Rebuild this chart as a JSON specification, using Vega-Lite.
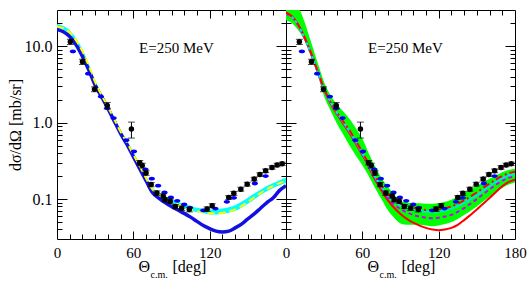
{
  "$schema": "https://vega.github.io/schema/vega-lite/v6.json",
  "padding": {"left": 6, "top": 9, "right": 0, "bottom": 0},
  "spacing": 0,
  "bounds": "flush",
  "config": {
    "font": "Liberation Serif",
    "view": {"stroke": "black", "strokeWidth": 1},
    "axis": {"labelFont": "Liberation Serif", "titleFont": "Liberation Serif", "labelFontSize": 15, "labelColor": "black", "titleColor": "black", "titleFontWeight": "normal", "tickColor": "black", "tickWidth": 1, "domain": false, "grid": false, "labelFlush": false, "labelOverlap": false, "labelBound": false}
  },
  "datasets": {
    "black": [
      {"t": 10.5, "v": 11.5, "lo": 10.6, "hi": 12.4},
      {"t": 20, "v": 6.3, "lo": 5.8, "hi": 6.8},
      {"t": 29.5, "v": 2.75, "lo": 2.55, "hi": 2.95},
      {"t": 39.5, "v": 1.68, "lo": 1.52, "hi": 1.84},
      {"t": 58.5, "v": 0.83, "lo": 0.63, "hi": 1.02},
      {"t": 65, "v": 0.3, "lo": 0.28, "hi": 0.32},
      {"t": 67, "v": 0.275, "lo": 0.255, "hi": 0.295},
      {"t": 70, "v": 0.22, "lo": 0.205, "hi": 0.235},
      {"t": 74, "v": 0.155, "lo": 0.145, "hi": 0.165},
      {"t": 78.5, "v": 0.12, "lo": 0.112, "hi": 0.128},
      {"t": 83.5, "v": 0.11, "lo": 0.103, "hi": 0.117},
      {"t": 85, "v": 0.098, "lo": 0.092, "hi": 0.104},
      {"t": 89, "v": 0.094, "lo": 0.088, "hi": 0.1},
      {"t": 93, "v": 0.08, "lo": 0.075, "hi": 0.085},
      {"t": 98, "v": 0.076, "lo": 0.071, "hi": 0.081},
      {"t": 104, "v": 0.073, "lo": 0.068, "hi": 0.078},
      {"t": 118, "v": 0.074, "lo": 0.069, "hi": 0.079},
      {"t": 122, "v": 0.082, "lo": 0.077, "hi": 0.087},
      {"t": 135, "v": 0.105, "lo": 0.099, "hi": 0.111},
      {"t": 139, "v": 0.119, "lo": 0.112, "hi": 0.126},
      {"t": 144.5, "v": 0.135, "lo": 0.127, "hi": 0.143},
      {"t": 149.5, "v": 0.157, "lo": 0.148, "hi": 0.166},
      {"t": 155, "v": 0.183, "lo": 0.173, "hi": 0.193},
      {"t": 159.5, "v": 0.21, "lo": 0.199, "hi": 0.221},
      {"t": 164, "v": 0.235, "lo": 0.222, "hi": 0.248},
      {"t": 169, "v": 0.26, "lo": 0.246, "hi": 0.274},
      {"t": 173, "v": 0.28, "lo": 0.265, "hi": 0.295},
      {"t": 177, "v": 0.29, "lo": 0.275, "hi": 0.305}
    ],
    "bluep": [
      {"t": 12.5, "v": 8.6}, {"t": 24.5, "v": 4.4}, {"t": 34.5, "v": 2.2}, {"t": 39.5, "v": 1.55},
      {"t": 44.5, "v": 1.15}, {"t": 54.5, "v": 0.59}, {"t": 60.5, "v": 0.42}, {"t": 69.5, "v": 0.245},
      {"t": 74.5, "v": 0.185}, {"t": 79.5, "v": 0.15}, {"t": 84.5, "v": 0.122}, {"t": 89.5, "v": 0.105},
      {"t": 94.5, "v": 0.095}, {"t": 100, "v": 0.085}, {"t": 104.5, "v": 0.077}, {"t": 115, "v": 0.071},
      {"t": 124.5, "v": 0.075}, {"t": 133.5, "v": 0.092}, {"t": 139, "v": 0.104}, {"t": 155.5, "v": 0.16},
      {"t": 164, "v": 0.2}
    ],
    "L": [
      {"t": 0, "blue": 16.7, "clo": 17.5, "chi": 19.6, "yel": 18.3},
      {"t": 5, "blue": 15.6, "clo": 16.5, "chi": 18.5, "yel": 17.3},
      {"t": 10, "blue": 13.5, "clo": 14.5, "chi": 16.3, "yel": 15.3},
      {"t": 15, "blue": 10.5, "clo": 11.5, "chi": 12.8, "yel": 12.0},
      {"t": 20, "blue": 7.4, "clo": 8.2, "chi": 9.2, "yel": 8.6},
      {"t": 25, "blue": 4.9, "clo": 5.3, "chi": 5.9, "yel": 5.55},
      {"t": 30, "blue": 3.1, "clo": 3.25, "chi": 3.6, "yel": 3.4},
      {"t": 35, "blue": 2.2, "clo": 2.2, "chi": 2.45, "yel": 2.3},
      {"t": 40, "blue": 1.54, "clo": 1.55, "chi": 1.72, "yel": 1.62},
      {"t": 45, "blue": 1.05, "clo": 1.07, "chi": 1.18, "yel": 1.11},
      {"t": 50, "blue": 0.72, "clo": 0.74, "chi": 0.81, "yel": 0.76},
      {"t": 55, "blue": 0.52, "clo": 0.53, "chi": 0.58, "yel": 0.55},
      {"t": 60, "blue": 0.36, "clo": 0.37, "chi": 0.41, "yel": 0.385},
      {"t": 65, "blue": 0.25, "clo": 0.26, "chi": 0.29, "yel": 0.27},
      {"t": 70, "blue": 0.174, "clo": 0.18, "chi": 0.2, "yel": 0.188},
      {"t": 75, "blue": 0.122, "clo": 0.128, "chi": 0.142, "yel": 0.134},
      {"t": 80, "blue": 0.103, "clo": 0.112, "chi": 0.124, "yel": 0.116},
      {"t": 85, "blue": 0.09, "clo": 0.1, "chi": 0.111, "yel": 0.103},
      {"t": 90, "blue": 0.08, "clo": 0.09, "chi": 0.1, "yel": 0.093},
      {"t": 95, "blue": 0.072, "clo": 0.082, "chi": 0.092, "yel": 0.085},
      {"t": 100, "blue": 0.065, "clo": 0.076, "chi": 0.086, "yel": 0.078},
      {"t": 105, "blue": 0.058, "clo": 0.071, "chi": 0.081, "yel": 0.073},
      {"t": 110, "blue": 0.051, "clo": 0.067, "chi": 0.077, "yel": 0.069},
      {"t": 115, "blue": 0.045, "clo": 0.065, "chi": 0.075, "yel": 0.067},
      {"t": 120, "blue": 0.041, "clo": 0.063, "chi": 0.073, "yel": 0.065},
      {"t": 125, "blue": 0.038, "clo": 0.063, "chi": 0.073, "yel": 0.065},
      {"t": 130, "blue": 0.037, "clo": 0.064, "chi": 0.075, "yel": 0.066},
      {"t": 135, "blue": 0.038, "clo": 0.066, "chi": 0.078, "yel": 0.069},
      {"t": 140, "blue": 0.042, "clo": 0.07, "chi": 0.083, "yel": 0.073},
      {"t": 145, "blue": 0.047, "clo": 0.077, "chi": 0.092, "yel": 0.081},
      {"t": 150, "blue": 0.055, "clo": 0.087, "chi": 0.104, "yel": 0.092},
      {"t": 155, "blue": 0.064, "clo": 0.099, "chi": 0.118, "yel": 0.105},
      {"t": 160, "blue": 0.076, "clo": 0.113, "chi": 0.133, "yel": 0.12},
      {"t": 165, "blue": 0.09, "clo": 0.127, "chi": 0.148, "yel": 0.135},
      {"t": 170, "blue": 0.104, "clo": 0.14, "chi": 0.162, "yel": 0.149},
      {"t": 175, "blue": 0.13, "clo": 0.152, "chi": 0.177, "yel": 0.162},
      {"t": 180, "blue": 0.15, "clo": 0.162, "chi": 0.19, "yel": 0.174}
    ],
    "R": [
      {"t": 0, "glo": 22, "ghi": 45, "cyan": 27, "red": 28, "redd": 27.5, "mag": 26.5},
      {"t": 5, "glo": 20, "ghi": 40, "cyan": 24, "red": 24.5, "redd": 24.3, "mag": 23.7},
      {"t": 10, "glo": 16, "ghi": 32, "cyan": 18.5, "red": 18.8, "redd": 18.7, "mag": 18.3},
      {"t": 15, "glo": 11.5, "ghi": 20, "cyan": 12.5, "red": 12.7, "redd": 12.6, "mag": 12.4},
      {"t": 20, "glo": 7, "ghi": 11, "cyan": 7.8, "red": 7.9, "redd": 7.9, "mag": 7.7},
      {"t": 25, "glo": 4.2, "ghi": 6, "cyan": 4.6, "red": 4.6, "redd": 4.65, "mag": 4.55},
      {"t": 30, "glo": 2.2, "ghi": 3.4, "cyan": 2.75, "red": 2.72, "redd": 2.78, "mag": 2.72},
      {"t": 35, "glo": 1.45, "ghi": 2.3, "cyan": 1.85, "red": 1.8, "redd": 1.87, "mag": 1.83},
      {"t": 40, "glo": 0.98, "ghi": 1.75, "cyan": 1.35, "red": 1.3, "redd": 1.37, "mag": 1.33},
      {"t": 45, "glo": 0.7, "ghi": 1.4, "cyan": 1.02, "red": 0.97, "redd": 1.04, "mag": 1.0},
      {"t": 50, "glo": 0.5, "ghi": 1.12, "cyan": 0.77, "red": 0.73, "redd": 0.79, "mag": 0.75},
      {"t": 55, "glo": 0.37, "ghi": 0.85, "cyan": 0.56, "red": 0.53, "redd": 0.575, "mag": 0.55},
      {"t": 60, "glo": 0.277, "ghi": 0.62, "cyan": 0.4, "red": 0.38, "redd": 0.41, "mag": 0.39},
      {"t": 65, "glo": 0.2, "ghi": 0.4, "cyan": 0.28, "red": 0.265, "redd": 0.29, "mag": 0.27},
      {"t": 70, "glo": 0.14, "ghi": 0.27, "cyan": 0.195, "red": 0.18, "redd": 0.2, "mag": 0.187},
      {"t": 75, "glo": 0.1, "ghi": 0.19, "cyan": 0.145, "red": 0.13, "redd": 0.15, "mag": 0.136},
      {"t": 80, "glo": 0.072, "ghi": 0.145, "cyan": 0.112, "red": 0.097, "redd": 0.117, "mag": 0.104},
      {"t": 85, "glo": 0.057, "ghi": 0.115, "cyan": 0.094, "red": 0.077, "redd": 0.099, "mag": 0.085},
      {"t": 90, "glo": 0.048, "ghi": 0.095, "cyan": 0.083, "red": 0.064, "redd": 0.087, "mag": 0.074},
      {"t": 95, "glo": 0.046, "ghi": 0.09, "cyan": 0.077, "red": 0.055, "redd": 0.081, "mag": 0.067},
      {"t": 100, "glo": 0.046, "ghi": 0.088, "cyan": 0.073, "red": 0.049, "redd": 0.077, "mag": 0.062},
      {"t": 105, "glo": 0.046, "ghi": 0.088, "cyan": 0.07, "red": 0.045, "redd": 0.074, "mag": 0.059},
      {"t": 110, "glo": 0.045, "ghi": 0.087, "cyan": 0.068, "red": 0.042, "redd": 0.072, "mag": 0.057},
      {"t": 115, "glo": 0.044, "ghi": 0.087, "cyan": 0.068, "red": 0.04, "redd": 0.072, "mag": 0.056},
      {"t": 120, "glo": 0.045, "ghi": 0.088, "cyan": 0.069, "red": 0.039, "redd": 0.073, "mag": 0.057},
      {"t": 125, "glo": 0.047, "ghi": 0.092, "cyan": 0.071, "red": 0.04, "redd": 0.076, "mag": 0.059},
      {"t": 130, "glo": 0.05, "ghi": 0.098, "cyan": 0.075, "red": 0.042, "redd": 0.08, "mag": 0.062},
      {"t": 135, "glo": 0.055, "ghi": 0.108, "cyan": 0.081, "red": 0.046, "redd": 0.087, "mag": 0.068},
      {"t": 140, "glo": 0.062, "ghi": 0.12, "cyan": 0.089, "red": 0.053, "redd": 0.096, "mag": 0.076},
      {"t": 145, "glo": 0.07, "ghi": 0.134, "cyan": 0.1, "red": 0.062, "redd": 0.108, "mag": 0.087},
      {"t": 150, "glo": 0.08, "ghi": 0.15, "cyan": 0.113, "red": 0.073, "redd": 0.122, "mag": 0.1},
      {"t": 155, "glo": 0.093, "ghi": 0.165, "cyan": 0.13, "red": 0.087, "redd": 0.14, "mag": 0.116},
      {"t": 160, "glo": 0.107, "ghi": 0.185, "cyan": 0.148, "red": 0.103, "redd": 0.159, "mag": 0.134},
      {"t": 165, "glo": 0.123, "ghi": 0.205, "cyan": 0.168, "red": 0.124, "redd": 0.18, "mag": 0.154},
      {"t": 170, "glo": 0.14, "ghi": 0.225, "cyan": 0.188, "red": 0.147, "redd": 0.2, "mag": 0.174},
      {"t": 175, "glo": 0.155, "ghi": 0.24, "cyan": 0.205, "red": 0.168, "redd": 0.218, "mag": 0.19},
      {"t": 180, "glo": 0.165, "ghi": 0.25, "cyan": 0.213, "red": 0.18, "redd": 0.228, "mag": 0.197}
    ],
    "txt": [{"t": 64.5, "v": 8.15, "s": "E=250 MeV"}]
  },
  "hconcat": [
    {
      "width": 229, "height": 229,
      "resolve": {"axis": {"x": "independent", "y": "independent"}},
      "layer": [
        {
          "data": {"name": "L"},
          "mark": {"type": "area", "color": "#00ffff", "interpolate": "monotone", "clip": true},
          "encoding": {
            "x": {"field": "t", "type": "quantitative", "scale": {"domain": [0, 180], "nice": false, "zero": false},
              "axis": {"orient": "bottom", "values": [0, 60, 120], "ticks": false, "labelPadding": 6, "title": "Θ", "titleFontSize": 16, "titleX": 81, "titleY": 32, "titleAlign": "left", "titleBaseline": "alphabetic"}},
            "y": {"field": "clo", "type": "quantitative", "scale": {"type": "log", "domain": [0.03, 30], "nice": false},
              "axis": {"orient": "left", "values": [0.1, 1, 10], "format": ".1f", "ticks": false, "labelPadding": 5, "labelFontSize": 16, "title": "dσ/dΩ [mb/sr]", "titleFontSize": 16, "titlePadding": 1}},
            "y2": {"field": "chi"}
          }
        },
        {
          "data": {"name": "L"},
          "mark": {"type": "line", "color": "#1010e0", "strokeWidth": 3.5, "interpolate": "monotone", "clip": true},
          "encoding": {
            "x": {"field": "t", "type": "quantitative", "scale": {"domain": [0, 180], "nice": false, "zero": false},
              "axis": {"orient": "bottom", "ticks": false, "labels": false, "title": "c.m.", "titleFontSize": 10, "titleX": 93, "titleY": 38, "titleAlign": "left", "titleBaseline": "alphabetic"}},
            "y": {"field": "blue", "type": "quantitative", "scale": {"type": "log", "domain": [0.03, 30], "nice": false},
              "axis": {"orient": "left", "values": [0.04, 0.05, 0.06, 0.07, 0.08, 0.09, 0.2, 0.3, 0.4, 0.5, 0.6, 0.7, 0.8, 0.9, 2, 3, 4, 5, 6, 7, 8, 9, 20], "labels": false, "tickSize": 5, "offset": -5, "title": null}}
          }
        },
        {
          "data": {"name": "L"},
          "mark": {"type": "line", "color": "#ffff00", "strokeWidth": 2, "strokeDash": [7, 4], "interpolate": "monotone", "clip": true},
          "encoding": {
            "x": {"field": "t", "type": "quantitative", "scale": {"domain": [0, 180], "nice": false, "zero": false},
              "axis": {"orient": "bottom", "ticks": false, "labels": false, "title": "[deg]", "titleFontSize": 16, "titleX": 115, "titleY": 32, "titleAlign": "left", "titleBaseline": "alphabetic"}},
            "y": {"field": "yel", "type": "quantitative", "scale": {"type": "log", "domain": [0.03, 30], "nice": false},
              "axis": {"orient": "left", "values": [0.1, 1, 10], "labels": false, "tickSize": 10, "offset": -10, "title": null}}
          }
        },
        {
          "data": {"name": "bluep"},
          "mark": {"type": "point", "shape": "M-1,0A1,0.6 0 1,0 1,0A1,0.6 0 1,0 -1,0Z", "filled": true, "color": "#0000ff", "size": 40, "opacity": 1},
          "encoding": {
            "x": {"field": "t", "type": "quantitative", "scale": {"domain": [0, 180], "nice": false, "zero": false},
              "axis": {"orient": "bottom", "values": [10, 20, 30, 40, 50, 70, 80, 90, 100, 110, 130, 140, 150, 160, 170], "labels": false, "tickSize": 5, "offset": -5, "title": null}},
            "y": {"field": "v", "type": "quantitative", "scale": {"type": "log", "domain": [0.03, 30], "nice": false},
              "axis": {"orient": "right", "values": [0.04, 0.05, 0.06, 0.07, 0.08, 0.09, 0.2, 0.3, 0.4, 0.5, 0.6, 0.7, 0.8, 0.9, 2, 3, 4, 5, 6, 7, 8, 9, 20], "labels": false, "tickSize": 5, "offset": -5, "title": null}}
          }
        },
        {
          "data": {"name": "black"},
          "mark": {"type": "rule", "color": "black", "strokeWidth": 1},
          "encoding": {
            "x": {"field": "t", "type": "quantitative", "scale": {"domain": [0, 180], "nice": false, "zero": false},
              "axis": {"orient": "bottom", "values": [60, 120], "labels": false, "tickSize": 8, "offset": -8, "title": null}},
            "y": {"field": "lo", "type": "quantitative", "scale": {"type": "log", "domain": [0.03, 30], "nice": false},
              "axis": {"orient": "right", "values": [0.1, 1, 10], "labels": false, "tickSize": 10, "offset": -10, "title": null}},
            "y2": {"field": "hi"}
          }
        },
        {
          "data": {"name": "black"},
          "transform": [{"fold": ["lo", "hi"], "as": ["k", "e"]}],
          "mark": {"type": "tick", "orient": "horizontal", "color": "black", "size": 7, "thickness": 1},
          "encoding": {
            "x": {"field": "t", "type": "quantitative", "scale": {"domain": [0, 180], "nice": false, "zero": false},
              "axis": {"orient": "top", "values": [10, 20, 30, 40, 50, 70, 80, 90, 100, 110, 130, 140, 150, 160, 170], "labels": false, "tickSize": 5, "offset": -5, "title": null}},
            "y": {"field": "e", "type": "quantitative", "scale": {"type": "log", "domain": [0.03, 30], "nice": false}, "axis": null}
          }
        },
        {
          "data": {"name": "black"},
          "mark": {"type": "circle", "color": "black", "size": 30, "opacity": 1},
          "encoding": {
            "x": {"field": "t", "type": "quantitative", "scale": {"domain": [0, 180], "nice": false, "zero": false},
              "axis": {"orient": "top", "values": [60, 120], "labels": false, "tickSize": 8, "offset": -8, "title": null}},
            "y": {"field": "v", "type": "quantitative", "scale": {"type": "log", "domain": [0.03, 30], "nice": false}, "axis": null}
          }
        },
        {
          "data": {"name": "txt"},
          "mark": {"type": "text", "align": "left", "baseline": "alphabetic", "fontSize": 15, "font": "Liberation Serif", "color": "black"},
          "encoding": {
            "x": {"field": "t", "type": "quantitative", "scale": {"domain": [0, 180], "nice": false, "zero": false}, "axis": null},
            "y": {"field": "v", "type": "quantitative", "scale": {"type": "log", "domain": [0.03, 30], "nice": false}, "axis": null},
            "text": {"field": "s"}
          }
        }
      ]
    },
    {
      "width": 229, "height": 229,
      "resolve": {"axis": {"x": "independent", "y": "independent"}},
      "layer": [
        {
          "data": {"name": "R"},
          "mark": {"type": "area", "color": "#00ff00", "interpolate": "monotone", "clip": true},
          "encoding": {
            "x": {"field": "t", "type": "quantitative", "scale": {"domain": [0, 180], "nice": false, "zero": false},
              "axis": {"orient": "bottom", "values": [0, 60, 120, 180], "ticks": false, "labelPadding": 6, "title": "Θ", "titleFontSize": 16, "titleX": 81, "titleY": 32, "titleAlign": "left", "titleBaseline": "alphabetic"}},
            "y": {"field": "glo", "type": "quantitative", "scale": {"type": "log", "domain": [0.03, 30], "nice": false},
              "axis": {"orient": "left", "values": [0.04, 0.05, 0.06, 0.07, 0.08, 0.09, 0.2, 0.3, 0.4, 0.5, 0.6, 0.7, 0.8, 0.9, 2, 3, 4, 5, 6, 7, 8, 9, 20], "labels": false, "tickSize": 5, "offset": -5, "title": null}},
            "y2": {"field": "ghi"}
          }
        },
        {
          "data": {"name": "R"},
          "mark": {"type": "line", "color": "#ff0000", "strokeWidth": 2, "interpolate": "monotone", "clip": true},
          "encoding": {
            "x": {"field": "t", "type": "quantitative", "scale": {"domain": [0, 180], "nice": false, "zero": false},
              "axis": {"orient": "bottom", "ticks": false, "labels": false, "title": "c.m.", "titleFontSize": 10, "titleX": 93, "titleY": 38, "titleAlign": "left", "titleBaseline": "alphabetic"}},
            "y": {"field": "red", "type": "quantitative", "scale": {"type": "log", "domain": [0.03, 30], "nice": false},
              "axis": {"orient": "left", "values": [0.1, 1, 10], "labels": false, "tickSize": 10, "offset": -10, "title": null}}
          }
        },
        {
          "data": {"name": "R"},
          "mark": {"type": "line", "color": "#cc00ff", "strokeWidth": 2, "strokeDash": [4, 3], "interpolate": "monotone", "clip": true},
          "encoding": {
            "x": {"field": "t", "type": "quantitative", "scale": {"domain": [0, 180], "nice": false, "zero": false},
              "axis": {"orient": "bottom", "ticks": false, "labels": false, "title": "[deg]", "titleFontSize": 16, "titleX": 115, "titleY": 32, "titleAlign": "left", "titleBaseline": "alphabetic"}},
            "y": {"field": "mag", "type": "quantitative", "scale": {"type": "log", "domain": [0.03, 30], "nice": false},
              "axis": {"orient": "right", "values": [0.04, 0.05, 0.06, 0.07, 0.08, 0.09, 0.2, 0.3, 0.4, 0.5, 0.6, 0.7, 0.8, 0.9, 2, 3, 4, 5, 6, 7, 8, 9, 20], "labels": false, "tickSize": 5, "offset": -5, "title": null}}
          }
        },
        {
          "data": {"name": "R"},
          "mark": {"type": "line", "color": "#00e5e5", "strokeWidth": 2, "interpolate": "monotone", "clip": true},
          "encoding": {
            "x": {"field": "t", "type": "quantitative", "scale": {"domain": [0, 180], "nice": false, "zero": false},
              "axis": {"orient": "bottom", "values": [10, 20, 30, 40, 50, 70, 80, 90, 100, 110, 130, 140, 150, 160, 170], "labels": false, "tickSize": 5, "offset": -5, "title": null}},
            "y": {"field": "cyan", "type": "quantitative", "scale": {"type": "log", "domain": [0.03, 30], "nice": false},
              "axis": {"orient": "right", "values": [0.1, 1, 10], "labels": false, "tickSize": 10, "offset": -10, "title": null}}
          }
        },
        {
          "data": {"name": "R"},
          "mark": {"type": "line", "color": "#ff0000", "strokeWidth": 2, "strokeDash": [7, 3, 2, 3], "interpolate": "monotone", "clip": true},
          "encoding": {
            "x": {"field": "t", "type": "quantitative", "scale": {"domain": [0, 180], "nice": false, "zero": false},
              "axis": {"orient": "bottom", "values": [60, 120], "labels": false, "tickSize": 8, "offset": -8, "title": null}},
            "y": {"field": "redd", "type": "quantitative", "scale": {"type": "log", "domain": [0.03, 30], "nice": false}, "axis": null}
          }
        },
        {
          "data": {"name": "bluep"},
          "mark": {"type": "point", "shape": "M-1,0A1,0.6 0 1,0 1,0A1,0.6 0 1,0 -1,0Z", "filled": true, "color": "#0000ff", "size": 40, "opacity": 1},
          "encoding": {
            "x": {"field": "t", "type": "quantitative", "scale": {"domain": [0, 180], "nice": false, "zero": false},
              "axis": {"orient": "top", "values": [10, 20, 30, 40, 50, 70, 80, 90, 100, 110, 130, 140, 150, 160, 170], "labels": false, "tickSize": 5, "offset": -5, "title": null}},
            "y": {"field": "v", "type": "quantitative", "scale": {"type": "log", "domain": [0.03, 30], "nice": false}, "axis": null}
          }
        },
        {
          "data": {"name": "black"},
          "mark": {"type": "rule", "color": "black", "strokeWidth": 1},
          "encoding": {
            "x": {"field": "t", "type": "quantitative", "scale": {"domain": [0, 180], "nice": false, "zero": false},
              "axis": {"orient": "top", "values": [60, 120], "labels": false, "tickSize": 8, "offset": -8, "title": null}},
            "y": {"field": "lo", "type": "quantitative", "scale": {"type": "log", "domain": [0.03, 30], "nice": false}, "axis": null},
            "y2": {"field": "hi"}
          }
        },
        {
          "data": {"name": "black"},
          "transform": [{"fold": ["lo", "hi"], "as": ["k", "e"]}],
          "mark": {"type": "tick", "orient": "horizontal", "color": "black", "size": 7, "thickness": 1},
          "encoding": {
            "x": {"field": "t", "type": "quantitative", "scale": {"domain": [0, 180], "nice": false, "zero": false}, "axis": null},
            "y": {"field": "e", "type": "quantitative", "scale": {"type": "log", "domain": [0.03, 30], "nice": false}, "axis": null}
          }
        },
        {
          "data": {"name": "black"},
          "mark": {"type": "circle", "color": "black", "size": 30, "opacity": 1},
          "encoding": {
            "x": {"field": "t", "type": "quantitative", "scale": {"domain": [0, 180], "nice": false, "zero": false}, "axis": null},
            "y": {"field": "v", "type": "quantitative", "scale": {"type": "log", "domain": [0.03, 30], "nice": false}, "axis": null}
          }
        },
        {
          "data": {"name": "txt"},
          "mark": {"type": "text", "align": "left", "baseline": "alphabetic", "fontSize": 15, "font": "Liberation Serif", "color": "black"},
          "encoding": {
            "x": {"field": "t", "type": "quantitative", "scale": {"domain": [0, 180], "nice": false, "zero": false}, "axis": null},
            "y": {"field": "v", "type": "quantitative", "scale": {"type": "log", "domain": [0.03, 30], "nice": false}, "axis": null},
            "text": {"field": "s"}
          }
        }
      ]
    }
  ]
}
